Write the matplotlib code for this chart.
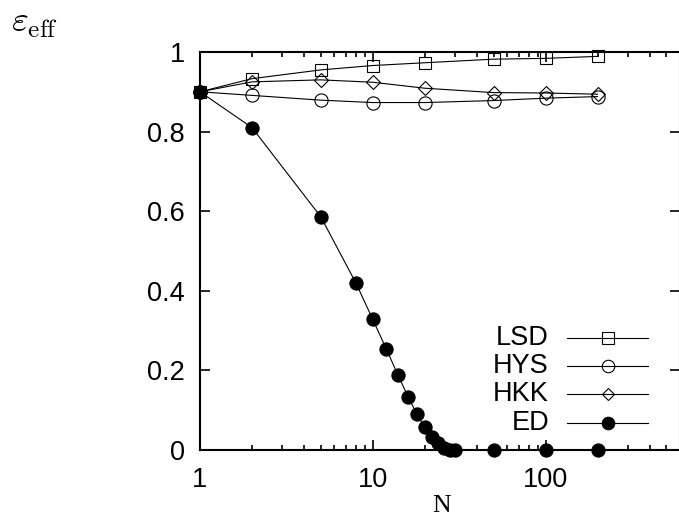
import matplotlib
matplotlib.use("Agg")
import matplotlib.pyplot as plt
from matplotlib.ticker import LogLocator, FixedLocator, NullFormatter

plt.rcParams['font.family'] = ['Liberation Sans', 'DejaVu Sans']
plt.rcParams['mathtext.fontset'] = 'cm'

# Data
N_lsd = [1, 2, 5, 10, 20, 50, 100, 200]
lsd = [0.900, 0.933, 0.955, 0.966, 0.973, 0.982, 0.984, 0.989]
N_hys = [1, 2, 5, 10, 20, 50, 100, 200]
hys = [0.900, 0.891, 0.879, 0.873, 0.873, 0.878, 0.884, 0.888]
N_hkk = [1, 2, 5, 10, 20, 50, 100, 200]
hkk = [0.900, 0.925, 0.930, 0.924, 0.909, 0.898, 0.897, 0.894]
N_ed = [1, 2, 5, 8, 10, 12, 14, 16, 18, 20, 22, 24, 26, 28, 30, 50, 100, 200]
ed = [0.900, 0.810, 0.586, 0.419, 0.328, 0.253, 0.188, 0.134, 0.090, 0.057,
      0.033, 0.017, 0.006, 0.001, 0.0, 0.0, 0.0, 0.0]

series_names = ['LSD', 'HYS', 'HKK', 'ED']
yticks = [0, 0.2, 0.4, 0.6, 0.8, 1]
ytick_labels = ['0', '0.2', '0.4', '0.6', '0.8', '1']
xticks = [1, 10, 100]
xtick_labels = ['1', '10', '100']

W, H = 679, 521
fig = plt.figure(figsize=(W / 100, H / 100), dpi=100)
ax = fig.add_axes([200 / W, 1 - 450 / H, 480 / W, 398 / H])

lw = 0.8
styles = {
    'LSD': dict(marker='s', ms=9, mfc='none', mec='black', mew=0.8),
    'HYS': dict(marker='o', ms=9.5, mfc='none', mec='black', mew=0.8),
    'HKK': dict(marker='D', ms=7, mfc='none', mec='black', mew=0.8),
    'ED': dict(marker='o', ms=9.5, mfc='black', mec='black', mew=0.8),
}
datasets = {'LSD': (N_lsd, lsd), 'HYS': (N_hys, hys), 'HKK': (N_hkk, hkk), 'ED': (N_ed, ed)}

for name in series_names:
    x, y = datasets[name]
    ax.plot(x, y, color='black', lw=lw, clip_on=False, zorder=3, **styles[name])

ax.set_xscale('log')
ax.set_xlim(1, 600)
ax.set_ylim(0, 1)
ax.xaxis.set_major_locator(FixedLocator(xticks))
ax.set_xticklabels(xtick_labels)
ax.xaxis.set_minor_locator(LogLocator(base=10, subs=range(2, 10), numticks=20))
ax.xaxis.set_minor_formatter(NullFormatter())
ax.set_yticks(yticks)
ax.set_yticklabels(ytick_labels)

fs = 19.5
ax.tick_params(which='both', direction='in', top=True, right=True, width=1.2, colors='black')
ax.tick_params(which='major', length=7, labelsize=fs)
ax.tick_params(axis='x', which='major', pad=12)
ax.tick_params(axis='y', which='major', pad=11)
ax.tick_params(which='minor', length=3.8)
for s in ax.spines.values():
    s.set_linewidth(1.5)

# Manual gnuplot-style legend
rows_y = [0.281, 0.211, 0.141, 0.068]
leg_styles = {
    'LSD': dict(marker='s', ms=8, mfc='none', mec='black', mew=0.8),
    'HYS': dict(marker='o', ms=9, mfc='none', mec='black', mew=0.8),
    'HKK': dict(marker='D', ms=6, mfc='none', mec='black', mew=0.8),
    'ED': dict(marker='o', ms=9, mfc='black', mec='black', mew=0.8),
}
for name, yy in zip(series_names, rows_y):
    ax.plot([0.7646, 0.9333], [yy, yy], transform=ax.transAxes, color='black', lw=lw, clip_on=False)
    ax.plot([0.85], [yy], transform=ax.transAxes, color='black', lw=0, clip_on=False, **leg_styles[name])
    ax.text(0.727, yy, name, transform=ax.transAxes, ha='right', va='center', fontsize=fs)

fig.text(442 / W, 1 - 506 / H, 'N', ha='center', va='center', fontsize=18.5, family='Liberation Serif')
fig.text(11 / W, 1 - 22 / H, r'$\varepsilon_{\rm eff}$', ha='left', va='center', fontsize=26)

fig.savefig('out.png', dpi=100)
